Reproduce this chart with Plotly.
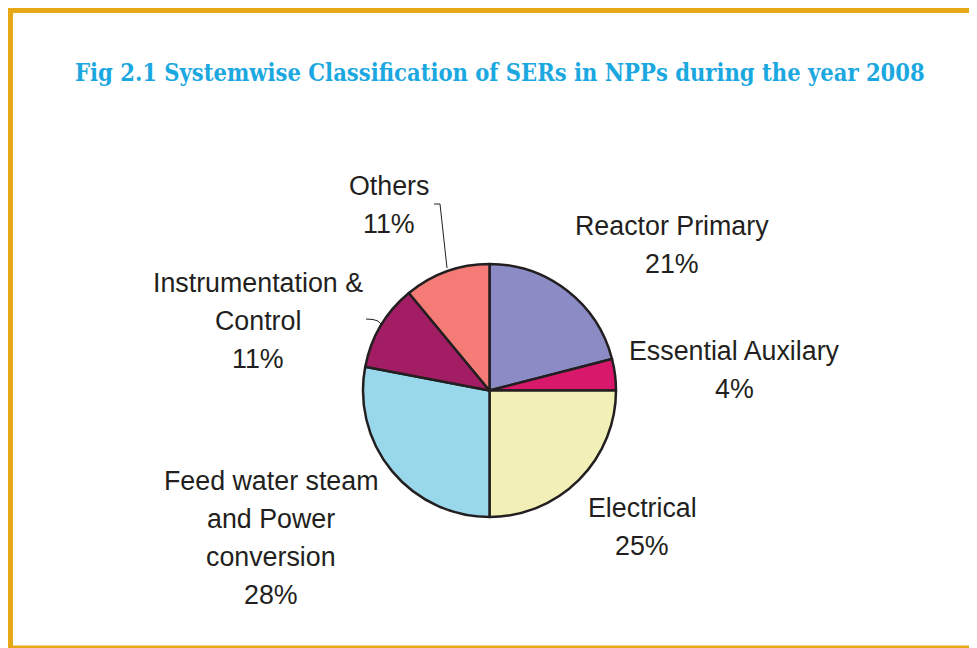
import plotly.graph_objects as go

W, H = 977, 648
OFF = 8  # page body margin in the browser

# ---- data ----
categories = ["Reactor Primary", "Essential Auxilary", "Electrical",
              "Feed water steam and Power conversion", "Instrumentation & Control", "Others"]
label_lines = [["Reactor Primary"], ["Essential Auxilary"], ["Electrical"],
               ["Feed water steam", "and Power", "conversion"],
               ["Instrumentation &", "Control"], ["Others"]]
percent_values = [21, 4, 25, 28, 11, 11]
slice_colors = ["#8B8CC5", "#D8186B", "#F2F0B6", "#98D8EA", "#A21D63", "#F47B76"]
title_text = "Fig 2.1 Systemwise Classification of SERs in NPPs during the year 2008"

# label block placement (pixel centre x, first-line centre y)
label_pos = [(672, 226), (734, 351), (642, 508), (271, 481), (258, 283), (389, 186)]
LINE_STEP = 38

def px(x, y):
    return (x - OFF) / W, 1 - (y - OFF) / H

cx, cy, r = 489.5, 390.5, 126.5
d0 = px(cx - r, cy + r)
d1 = px(cx + r, cy - r)
fig = go.Figure(go.Pie(
    labels=categories, values=percent_values, sort=False, direction="clockwise",
    rotation=0, textinfo="none", hoverinfo="label+percent",
    marker=dict(colors=slice_colors, line=dict(color="#231F20", width=2.5)),
    domain=dict(x=[d0[0], d1[0]], y=[d0[1], d1[1]]),
    showlegend=False,
))

annotations = []
for lines, v, (x, y) in zip(label_lines, percent_values, label_pos):
    for i, t in enumerate(lines + [f"{v}%"]):
        ax, ay = px(x, y + i * LINE_STEP)
        annotations.append(dict(x=ax, y=ay, xref="paper", yref="paper", text=t,
                                showarrow=False, xanchor="center", yanchor="middle",
                                font=dict(family="Liberation Sans, Arial", size=26.8, color="#231F20")))

tx, ty = px(499.5, 73)
annotations.append(dict(x=tx, y=ty, xref="paper", yref="paper", text="<b>" + title_text + "</b>",
                        showarrow=False, xanchor="center", yanchor="middle",
                        font=dict(family="DejaVu Serif Condensed", size=23.5, color="#1BA8E0")))

frame = "#E6A817"
shapes = []
def rect(x0, y0, x1, y1, color):
    a0, b0 = px(x0, y0)
    a1, b1 = px(x1, y1)
    shapes.append(dict(type="rect", xref="paper", yref="paper", x0=a0, y0=b1, x1=a1, y1=b0,
                       fillcolor=color, line=dict(width=0), layer="below"))
rect(5, 5, 13, 648, frame)
rect(5, 5, 985, 13, frame)
rect(5, 645.5, 985, 648, frame)

def path(points):
    d = ""
    for i, (x, y) in enumerate(points):
        a, b = px(x, y)
        d += ("M" if i == 0 else "L") + f"{a},{b} "
    shapes.append(dict(type="path", xref="paper", yref="paper", path=d,
                       line=dict(color="#231F20", width=1)))
path([(434, 204), (440, 204), (447, 268)])
path([(366, 319), (373, 319.5), (378, 321), (381, 324)])

fig.update_layout(width=W, height=H, margin=dict(l=0, r=0, t=0, b=0),
                  paper_bgcolor="white", plot_bgcolor="white",
                  annotations=annotations, shapes=shapes)
fig.write_html("out.html")
